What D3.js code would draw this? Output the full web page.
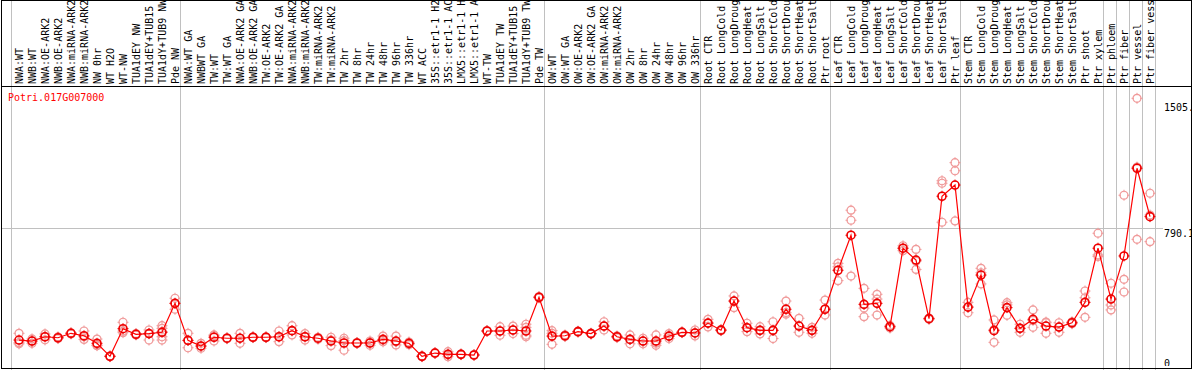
<!DOCTYPE html>
<html lang='en'>
<head>
  <meta charset='UTF-8'>
  <title>Potri.017G007000</title>
  <style>
    body { margin: 0; background: #fff; }
    svg text { font-family: 'DejaVu Sans Mono', monospace; font-size: 10px; }
  </style>
</head>
<body>
<div id='chart'></div>
<script src='https://d3js.org/d3.v7.min.js'></script>
<script>
  // sample names (only the first 14 characters fit in the header)
  var samples = [
    'NWA:WT', 'NWB:WT', 'NWA:OE-ARK2', 'NWB:OE-ARK2', 'NWA:miRNA-ARK2', 'NWB:miRNA-ARK2',
    'NW 0hr', 'WT H2O', 'WT-NW', 'TUA1dEY NW', 'TUA1dEY+TUB15 NW', 'TUA1dY+TUB9 NW', 'Pde NW',
    'NWA:WT GA', 'NWBWT GA', 'TW:WT', 'TW:WT GA', 'NWA:OE-ARK2 GA', 'NWB:OE-ARK2 GA',
    'TW:OE-ARK2', 'TW:OE-ARK2 GA', 'NWA:miRNA-ARK2', 'NWB:miRNA-ARK2', 'TW:miRNA-ARK2', 'TW:miRNA-ARK2',
    'TW 2hr', 'TW 8hr', 'TW 24hr', 'TW 48hr', 'TW 96hr', 'TW 336hr', 'WT ACC',
    '35S::etr1-1 H2O', '35S::etr1-1 ACC', 'LMX5::etr1-1 H2O', 'LMX5::etr1-1 ACC',
    'WT-TW', 'TUA1dEY TW', 'TUA1dEY+TUB15 TW', 'TUA1dY+TUB9 TW', 'Pde TW',
    'OW:WT', 'OW:WT GA', 'OW:OE-ARK2', 'OW:OE-ARK2 GA', 'OW:miRNA-ARK2', 'OW:miRNA-ARK2',
    'OW 2hr', 'OW 8hr', 'OW 24hr', 'OW 48hr', 'OW 96hr', 'OW 336hr',
    'Root CTR', 'Root LongCold', 'Root LongDrought', 'Root LongHeat', 'Root LongSalt',
    'Root ShortCold', 'Root ShortDrought', 'Root ShortHeat', 'Root ShortSalt', 'Ptr root',
    'Leaf CTR', 'Leaf LongCold', 'Leaf LongDrought', 'Leaf LongHeat', 'Leaf LongSalt',
    'Leaf ShortCold', 'Leaf ShortDrought', 'Leaf ShortHeat', 'Leaf ShortSalt', 'Ptr leaf',
    'Stem CTR', 'Stem LongCold', 'Stem LongDrought', 'Stem LongHeat', 'Stem LongSalt',
    'Stem ShortCold', 'Stem ShortDrought', 'Stem ShortHeat', 'Stem ShortSalt',
    'Ptr shoot', 'Ptr xylem', 'Ptr phloem', 'Ptr fiber', 'Ptr vessel', 'Ptr fiber vessel'
  ]

  // index of the first sample of each group (grey separators)
  var groupStarts = [0, 13, 41, 53, 63, 73, 84, 85, 86, 87, 88]

  // mean expression per sample
  var means = [
    111, 105, 131, 125, 152, 137, 91, 12, 180, 146, 150, 158, 334,
    109, 75, 128, 122, 122, 128, 128, 131, 168, 131, 122, 105, 93, 93, 93, 115, 105, 91,
    12, 32, 24, 24, 20, 166, 166, 172, 166, 371,
    135, 137, 162, 150, 196, 131, 115, 105, 105, 135, 158, 154,
    214, 171, 348, 186, 170, 170, 298, 196, 170, 298,
    535, 748, 328, 334, 192, 669, 597, 241, 985, 1053,
    311, 506, 168, 308, 182, 237, 196, 190, 216, 340, 669, 360, 622, 1155, 861
  ]

  // replicate values per sample
  var replicates = [
    [152, 95, 88], [118, 105, 91], [148, 131, 112], [130, 125, 120], [155, 152, 148],
    [166, 131, 115], [117, 80, 77], [14, 12, 10], [219, 165, 156], [150, 146, 142],
    [172, 152, 111], [198, 182, 162, 131, 111], [365, 334, 298],
    [152, 109, 64], [91, 73, 61], [142, 137, 105], [125, 122, 119], [152, 122, 91],
    [130, 128, 126], [130, 128, 126], [166, 131, 101], [198, 168, 142], [150, 131, 111],
    [128, 122, 116], [128, 110, 77], [122, 108, 49], [96, 93, 90], [105, 95, 79],
    [135, 110, 100], [135, 100, 81], [99, 91, 83], [14, 12, 10], [34, 32, 30],
    [40, 24, 10], [26, 24, 22], [22, 20, 18], [168, 166, 164], [192, 166, 140],
    [196, 172, 150], [207, 188, 140, 131], [375, 371, 367],
    [168, 152, 85], [142, 137, 132], [165, 162, 159], [153, 150, 147], [222, 196, 172],
    [136, 131, 126], [142, 115, 88], [122, 105, 88], [142, 105, 79, 92], [150, 135, 120],
    [160, 158, 156], [172, 154, 136],
    [237, 214, 191], [174, 171, 168], [379, 348, 308], [213, 186, 162], [192, 170, 148],
    [222, 170, 120], [348, 278, 268], [243, 196, 158], [188, 170, 152], [354, 298, 263],
    [577, 556, 472], [900, 839, 500], [425, 305, 253], [389, 360, 263], [200, 192, 184],
    [684, 669, 654], [662, 590, 540], [245, 241, 237], [1079, 1064, 827], [1189, 1140, 835],
    [340, 312, 277], [547, 520, 452], [233, 175, 97], [338, 325, 261], [207, 182, 158],
    [294, 230, 188], [216, 220, 152], [216, 190, 158], [222, 216, 210], [409, 368, 249],
    [760, 628, 619], [456, 324, 294], [991, 480, 403], [1580.2, 1162, 723], [1003, 871, 709]
  ]

  var yLabels = ['0', '790.1', '1505.']
  var geneName = 'Potri.017G007000'

  var width = 1194, height = 370
  var svg = d3.select('#chart').append('svg')
    .attr('width', width).attr('height', height)

  var plotLeft = 11, plotRight = 1155, headerBottom = 86
  var x = d3.scaleBand().domain(d3.range(samples.length)).range([plotLeft, plotRight])
  var cx = function (i) { return x(i) + 8 }

  var yMax = d3.max(replicates, function (r) { return d3.max(r) })
  var y = d3.scaleLinear().domain([0, yMax]).range([358.3, 98.3])

  // grey separators between groups
  svg.append('g').selectAll('line').data(groupStarts).join('line')
    .attr('x1', function (d) { return d === samples.length ? plotRight + 0.5 : x(d) + 0.5 })
    .attr('x2', function (d) { return d === samples.length ? plotRight + 0.5 : x(d) + 0.5 })
    .attr('y1', 0).attr('y2', height)
    .style('stroke', '#c0c0c0').style('stroke-width', 1)

  // mid grid line
  svg.append('line')
    .attr('x1', 1).attr('x2', 1163)
    .attr('y1', Math.round(y(yMax / 2)) + 0.5).attr('y2', Math.round(y(yMax / 2)) + 0.5)
    .style('stroke', '#c0c0c0')

  // sample labels, rotated, cut to what fits above the header line
  svg.append('g').selectAll('text').data(samples).join('text')
    .attr('transform', function (d, i) { return 'translate(' + (cx(i) + 4) + ',84) rotate(-90)' })
    .text(function (d) { return d.slice(0, 14) })
    .style('fill', '#000')

  // y labels at min, middle, top
  var clip = svg.append('defs').append('clipPath').attr('id', 'axisClip')
  clip.append('rect').attr('x', plotRight).attr('y', headerBottom).attr('width', 1191 - plotRight).attr('height', 280)
  svg.append('g').attr('clip-path', 'url(#axisClip)')
    .selectAll('text').data([0, yMax / 2, yMax]).join('text')
    .attr('x', 1164)
    .attr('y', function (d, i) { return y(d) + (i === 2 ? 13 : 8.5) })
    .text(function (d, i) { return yLabels[i] })

  svg.append('text').attr('x', 8).attr('y', 101).text(geneName).style('fill', '#ff0000')

  // circle marker with small ticks at the four sides
  var marker = function (g, r, color, w) {
    g.append('circle').attr('r', r)
      .style('fill', 'none').style('stroke', color).style('stroke-width', w)
    g.selectAll('line.tick').data([[0, -1], [0, 1], [-1, 0], [1, 0]]).join('line')
      .attr('class', 'tick')
      .attr('x1', function (d) { return d[0] * (r - 1) }).attr('y1', function (d) { return d[1] * (r - 1) })
      .attr('x2', function (d) { return d[0] * (r + 1.5) }).attr('y2', function (d) { return d[1] * (r + 1.5) })
      .style('stroke', color).style('stroke-width', 1)
  }

  // replicate circles
  var reps = []
  replicates.forEach(function (r, i) { r.forEach(function (v) { reps.push({ i: i, v: v }) }) })
  svg.append('g').selectAll('g').data(reps).join('g')
    .attr('transform', function (d) { return 'translate(' + cx(d.i) + ',' + y(d.v) + ')' })
    .each(function () { marker(d3.select(this), 4, '#f09a9a', 1.2) })

  // mean line and points
  var line = d3.line().x(function (d, i) { return cx(i) }).y(function (d) { return y(d) })
  svg.append('path').datum(means).attr('d', line)
    .style('fill', 'none').style('stroke', '#ff0000').style('stroke-width', 1.2)
  svg.append('g').selectAll('g').data(means).join('g')
    .attr('transform', function (d, i) { return 'translate(' + cx(i) + ',' + y(d) + ')' })
    .each(function () { marker(d3.select(this), 4, '#ee0000', 1.6) })

  // frame and header separator
  svg.append('line').attr('x1', 1).attr('x2', 1192).attr('y1', headerBottom + 0.5).attr('y2', headerBottom + 0.5)
    .style('stroke', '#000')
  svg.append('rect').attr('x', 1.5).attr('y', 0.5).attr('width', 1190).attr('height', 368)
    .style('fill', 'none').style('stroke', '#000')
</script>
</body>
</html>
